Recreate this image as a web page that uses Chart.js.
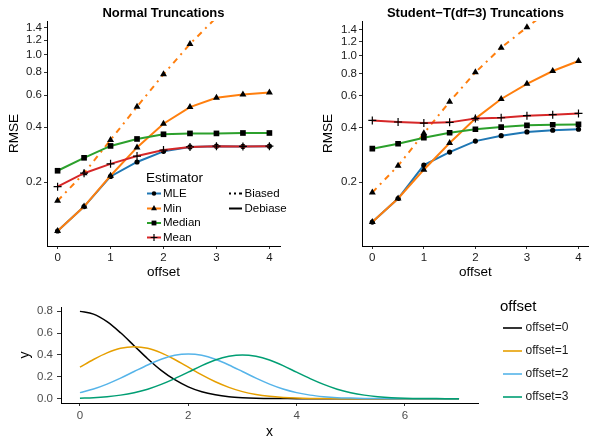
<!DOCTYPE html>
<html lang="en">
<head>
<meta charset="UTF-8">
<title>RMSE of truncation estimators</title>
<script src="https://cdn.jsdelivr.net/npm/chart.js"></script>
<style>
    body { margin: 0; width: 593px; height: 438px; overflow: hidden; background: #fff; position: relative; }
    canvas { position: absolute; }
    #normalChart { left: 0; top: 0; }
    #studentChart { left: 300px; top: 0; }
    #densityChart { left: 0; top: 290px; }
</style>
</head>
<body>
<canvas id="normalChart" width="300" height="285"></canvas>
<canvas id="studentChart" width="294" height="285"></canvas>
<canvas id="densityChart" width="593" height="153"></canvas>
<script>
// ---- data ----
const offsets = [0, 0.5, 1, 1.5, 2, 2.5, 3, 3.5, 4];
const rmseTicks = [0.2, 0.4, 0.6, 0.8, 1.0, 1.2, 1.4];
const offsetTicks = [0, 1, 2, 3, 4];

// Normal truncations
const normMLE       = [0.108, 0.147, 0.215, 0.258, 0.295, 0.312, 0.315, 0.314, 0.315];
const normMin       = [0.108, 0.147, 0.217, 0.310, 0.418, 0.516, 0.580, 0.604, 0.620];
const normMinBiased = [0.158, 0.224, 0.341, 0.518, 0.780, 1.144, 1.600, null, null];
const normMedian    = [0.231, 0.272, 0.316, 0.345, 0.366, 0.370, 0.370, 0.372, 0.372];
const normMean      = [0.189, 0.224, 0.252, 0.278, 0.300, 0.312, 0.315, 0.314, 0.315];

// Student-T(df=3) truncations
const stMLE       = [0.120, 0.162, 0.248, 0.293, 0.337, 0.361, 0.379, 0.387, 0.392];
const stMin       = [0.120, 0.162, 0.234, 0.329, 0.449, 0.577, 0.700, 0.824, 0.936];
const stMinBiased = [0.175, 0.246, 0.372, 0.557, 0.810, 1.110, 1.440, 1.850, null];
const stMedian    = [0.306, 0.326, 0.352, 0.375, 0.392, 0.403, 0.412, 0.415, 0.417];
const stMean      = [0.439, 0.430, 0.424, 0.428, 0.450, 0.454, 0.466, 0.472, 0.480];

// truncated densities, read every 0.25 along x
const xs = [0, 0.25, 0.5, 0.75, 1, 1.25, 1.5, 1.75, 2, 2.25, 2.5, 2.75, 3, 3.25, 3.5, 3.75,
            4, 4.25, 4.5, 4.75, 5, 5.25, 5.5, 5.75, 6, 6.25, 6.5, 6.75, 7];
const dens0 = [0.798, 0.773, 0.704, 0.602, 0.484, 0.365, 0.259, 0.173, 0.108, 0.063, 0.035, 0.018, 0.009, 0.004, 0.002, 0.001,
               0, 0, 0, 0, 0, 0, 0, 0, 0, 0, 0, 0, 0];
const dens1 = [0.288, 0.358, 0.418, 0.460, 0.474, 0.460, 0.418, 0.358, 0.288, 0.217, 0.154, 0.103, 0.064, 0.038, 0.021, 0.011,
               0.005, 0.002, 0.001, 0, 0, 0, 0, 0, 0, 0, 0, 0, 0];
const dens2 = [0.055, 0.088, 0.133, 0.187, 0.248, 0.308, 0.360, 0.396, 0.408, 0.396, 0.360, 0.308, 0.248, 0.187, 0.133, 0.088,
               0.055, 0.032, 0.018, 0.009, 0.005, 0.002, 0.001, 0, 0, 0, 0, 0, 0];
const dens3 = [0.004, 0.009, 0.018, 0.032, 0.054, 0.086, 0.130, 0.183, 0.242, 0.302, 0.353, 0.387, 0.400, 0.387, 0.353, 0.302,
               0.242, 0.183, 0.130, 0.086, 0.054, 0.032, 0.018, 0.009, 0.004, 0.002, 0.001, 0, 0];
const densLabels = ['offset=0', 'offset=1', 'offset=2', 'offset=3'];
const densTicksX = [0, 2, 4, 6];
const densTicksY = [0, 0.2, 0.4, 0.6, 0.8];

const estLabels = ['MLE', 'Min', 'Median', 'Mean'];
const estColors = ['#1F77B4', '#FF7F0E', '#2CA02C', '#D62728'];
const estShapes = ['circle', 'triangle', 'rect', 'cross'];
const estRadius = [2.6, 4, 4, 4];
const densColors = ['#000000', '#E69F00', '#56B4E9', '#009E73'];

Chart.defaults.font.family = '"Liberation Sans", Arial, sans-serif';
Chart.defaults.animation = false;

const pts = (xv, yv) => xv.map((x, i) => ({ x: x, y: yv[i] }));

// small legend marker, same look as the chart points
function marker(ctx, shape, x, y, r) {
    ctx.beginPath();
    if (shape === 'circle') {
        ctx.arc(x, y, r, 0, Math.PI * 2);
        ctx.fill();
    } else if (shape === 'triangle') {
        ctx.moveTo(x, y - r);
        ctx.lineTo(x + r * 0.866, y + r * 0.5);
        ctx.lineTo(x - r * 0.866, y + r * 0.5);
        ctx.closePath();
        ctx.fill();
    } else if (shape === 'rect') {
        const s = r * Math.SQRT1_2;
        ctx.fillRect(x - s, y - s, 2 * s, 2 * s);
    } else {
        ctx.lineWidth = 1.2;
        ctx.moveTo(x - r, y); ctx.lineTo(x + r, y);
        ctx.moveTo(x, y - r); ctx.lineTo(x, y + r);
        ctx.stroke();
    }
}

function drawEstimatorLegend(ctx) {
    ctx.fillStyle = '#000';
    ctx.textAlign = 'left';
    ctx.textBaseline = 'middle';
    ctx.font = '13.5px "Liberation Sans", Arial, sans-serif';
    ctx.fillText('Estimator', 146, 178);
    const rows = [193.5, 208.5, 223, 237.5];
    ctx.font = '11.5px "Liberation Sans", Arial, sans-serif';
    estLabels.forEach((lab, i) => {
        ctx.strokeStyle = estColors[i];
        ctx.lineWidth = 2;
        ctx.setLineDash([]);
        ctx.beginPath(); ctx.moveTo(147, rows[i]); ctx.lineTo(161, rows[i]); ctx.stroke();
        ctx.fillStyle = '#000'; ctx.strokeStyle = '#000';
        marker(ctx, estShapes[i], 154, rows[i], estRadius[i] * 0.85);
        ctx.fillText(lab, 163, rows[i]);
    });
    // linetype legend, cut off by the panel edge as in the figure
    ctx.save();
    ctx.beginPath(); ctx.rect(0, 0, 287, 285); ctx.clip();
    ctx.strokeStyle = '#000';
    ctx.lineWidth = 2;
    ctx.setLineDash([2, 3, 2, 3, 4, 2]);
    ctx.beginPath(); ctx.moveTo(229, rows[0]); ctx.lineTo(242, rows[0]); ctx.stroke();
    ctx.setLineDash([]);
    ctx.beginPath(); ctx.moveTo(229, rows[1]); ctx.lineTo(242, rows[1]); ctx.stroke();
    ctx.fillText('Biased', 244.5, rows[0]);
    ctx.fillText('Debiased', 244.5, rows[1]);
    ctx.restore();
}

function drawOffsetLegend(ctx) {
    ctx.fillStyle = '#000';
    ctx.textAlign = 'left';
    ctx.textBaseline = 'middle';
    ctx.font = '15px "Liberation Sans", Arial, sans-serif';
    ctx.fillText('offset', 500, 16.5);
    const rows = [38, 61, 84, 107];
    ctx.font = '12px "Liberation Sans", Arial, sans-serif';
    densLabels.forEach((lab, i) => {
        ctx.strokeStyle = densColors[i];
        ctx.lineWidth = 1.6;
        ctx.beginPath(); ctx.moveTo(503, rows[i]); ctx.lineTo(522, rows[i]); ctx.stroke();
        ctx.fillStyle = '#1a1a1a';
        ctx.fillText(lab, 525.5, rows[i]);
    });
}

const annot = {
    id: 'annot',
    afterDraw(chart, args, opts) {
        const ctx = chart.ctx;
        const a = chart.chartArea;
        ctx.save();
        if (opts.title) {
            ctx.font = 'bold 13px "Liberation Sans", Arial, sans-serif';
            ctx.fillStyle = '#000';
            ctx.textAlign = 'center';
            ctx.textBaseline = 'middle';
            ctx.fillText(opts.title, (a.left + a.right) / 2, opts.titleY);
        }
        if (opts.legend) opts.legend(ctx);
        ctx.restore();
    }
};

const tickOnly = (len) => ({ display: true, drawOnChartArea: false, drawTicks: true, tickLength: len, color: '#333', tickColor: '#333' });
const axisBorder = { display: true, color: '#000', width: 1 };

function rmseDatasets(mle, mn, mnBiased, med, mean) {
    const series = [mle, mn, med, mean];
    const sets = series.map((s, i) => ({
        label: estLabels[i],
        data: pts(offsets, s),
        borderColor: estColors[i],
        borderWidth: 2,
        pointStyle: estShapes[i],
        pointRadius: estRadius[i],
        pointBackgroundColor: '#000',
        pointBorderColor: '#000',
        pointBorderWidth: estShapes[i] === 'cross' ? 1.2 : 0,
        tension: 0,
        order: 3 - i
    }));
    sets.push({
        label: 'Min (biased)',
        data: pts(offsets, mnBiased),
        borderColor: estColors[1],
        borderWidth: 2,
        borderDash: [6, 5, 2, 5],
        pointStyle: 'triangle',
        pointRadius: 4,
        pointBackgroundColor: '#000',
        pointBorderColor: '#000',
        pointBorderWidth: 0,
        tension: 0,
        order: 4
    });
    return sets;
}

function rmseChart(id, title, data, yMin, yMax, yWidth, yTitlePad, rightPad, legend) {
    return new Chart(document.getElementById(id), {
        type: 'line',
        data: { datasets: data },
        plugins: [annot],
        options: {
            responsive: false,
            layout: { padding: { top: 21, right: rightPad, left: 0, bottom: 0 } },
            plugins: {
                legend: { display: false },
                tooltip: { enabled: false },
                annot: { title: title, titleY: 13, legend: legend }
            },
            scales: {
                x: {
                    type: 'linear', min: -0.2, max: 4.2,
                    afterBuildTicks: s => { s.ticks = offsetTicks.map(v => ({ value: v })); },
                    afterFit: s => { s.height = 39; },
                    grid: tickOnly(3), border: axisBorder,
                    ticks: { color: '#1a1a1a', font: { size: 11.5 }, padding: 2, autoSkip: false, maxRotation: 0, callback: v => String(v) },
                    title: { display: true, text: 'offset', color: '#000', font: { size: 13.5 }, padding: { top: 0, bottom: 5 } }
                },
                y: {
                    type: 'logarithmic', min: yMin, max: yMax,
                    afterBuildTicks: s => { s.ticks = rmseTicks.map(v => ({ value: v })); },
                    afterFit: s => { s.width = yWidth; },
                    grid: tickOnly(3), border: axisBorder,
                    ticks: { color: '#1a1a1a', font: { size: 11.5 }, padding: 2, autoSkip: false, callback: v => Number(v).toFixed(1) },
                    title: { display: true, text: 'RMSE', color: '#000', font: { size: 13.5 }, padding: { top: yTitlePad, bottom: 0 } }
                }
            }
        }
    });
}

rmseChart('normalChart', 'Normal Truncations',
    rmseDatasets(normMLE, normMin, normMinBiased, normMedian, normMean),
    0.0894, 1.528, 47, 6, 20, drawEstimatorLegend);

rmseChart('studentChart', 'Student\u2212T(df=3) Truncations',
    rmseDatasets(stMLE, stMin, stMinBiased, stMedian, stMean),
    0.0884, 1.56, 62, 20.5, 0, null);

const densSeries = [dens0, dens1, dens2, dens3];
new Chart(document.getElementById('densityChart'), {
    type: 'line',
    data: {
        datasets: densSeries.map((d, i) => ({
            label: densLabels[i],
            data: pts(xs, d),
            borderColor: densColors[i],
            borderWidth: 1.5,
            pointRadius: 0,
            cubicInterpolationMode: 'monotone',
            order: 3 - i
        }))
    },
    plugins: [annot],
    options: {
        responsive: false,
        layout: { padding: { top: 17, right: 115, left: 0, bottom: 0 } },
        plugins: {
            legend: { display: false },
            tooltip: { enabled: false },
            annot: { legend: drawOffsetLegend }
        },
        scales: {
            x: {
                type: 'linear', min: -0.35, max: 7.35,
                afterBuildTicks: s => { s.ticks = densTicksX.map(v => ({ value: v })); },
                afterFit: s => { s.height = 40; },
                grid: tickOnly(3), border: axisBorder,
                ticks: { color: '#4d4d4d', font: { size: 11.5 }, padding: 3, autoSkip: false, maxRotation: 0, callback: v => String(v) },
                title: { display: true, text: 'x', color: '#000', font: { size: 14 }, padding: { top: 0, bottom: 2 } }
            },
            y: {
                type: 'linear', min: -0.04, max: 0.838,
                afterBuildTicks: s => { s.ticks = densTicksY.map(v => ({ value: v })); },
                afterFit: s => { s.width = 61; },
                grid: tickOnly(4), border: axisBorder,
                ticks: { color: '#4d4d4d', font: { size: 11.5 }, padding: 4, autoSkip: false, callback: v => Number(v).toFixed(1) },
                title: { display: true, text: 'y', color: '#000', font: { size: 14 }, padding: { top: 17, bottom: 0 } }
            }
        }
    }
});
</script>
</body>
</html>
